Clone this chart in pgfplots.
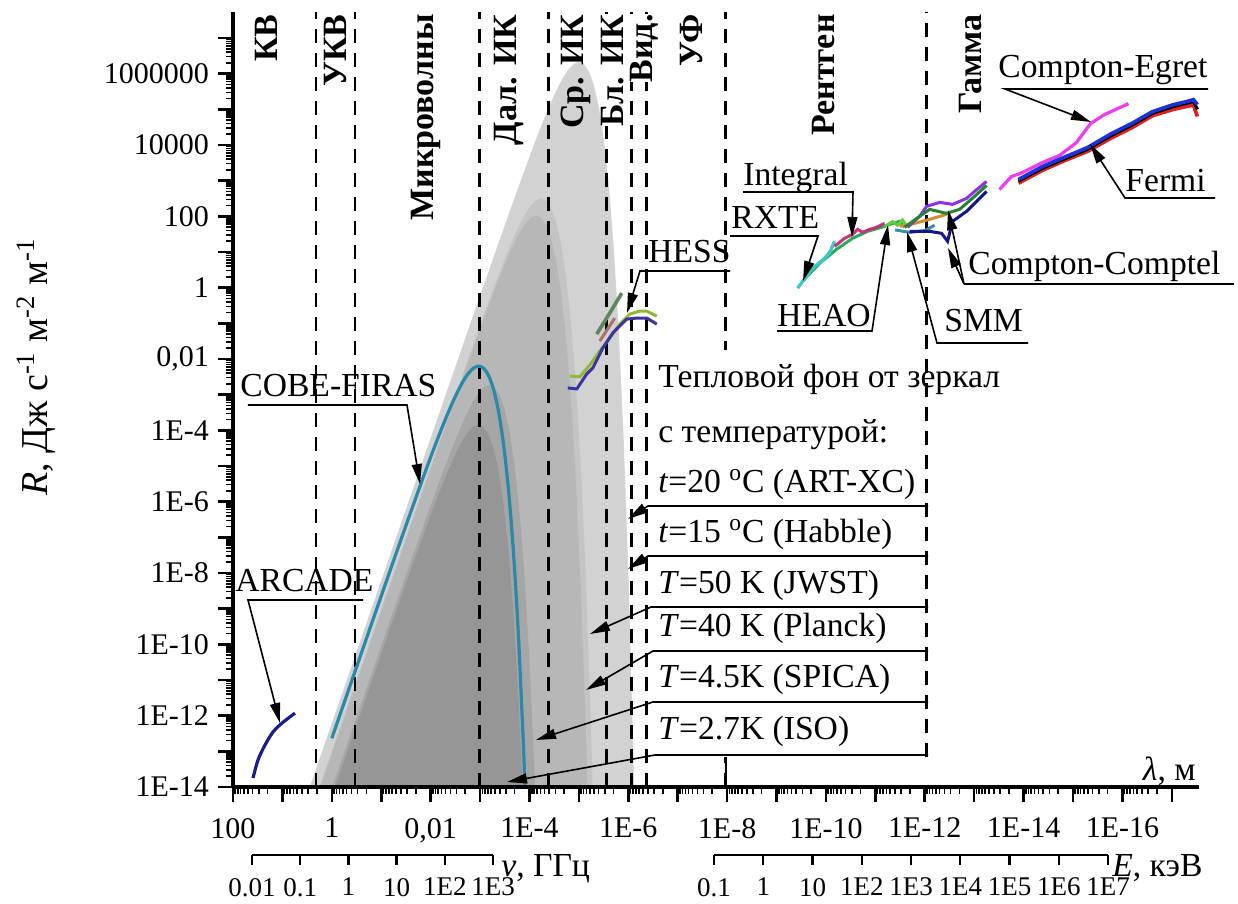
\documentclass[border=0pt]{standalone}
\usepackage{fontspec}
\setmainfont{Liberation Serif}
\usepackage{pgfplots}
\pgfplotsset{compat=1.18}
\usetikzlibrary{arrows.meta}

\definecolor{gA}{RGB}{220,220,220}
\definecolor{gB}{RGB}{210,210,210}
\definecolor{gC}{RGB}{196,196,196}
\definecolor{gD}{RGB}{183,183,183}
\definecolor{gE}{RGB}{166,166,166}
\definecolor{gF}{RGB}{150,150,150}
\definecolor{cobe}{RGB}{40,138,168}
\definecolor{arcade}{RGB}{25,30,140}
\definecolor{hessY}{RGB}{145,185,50}
\definecolor{hessB}{RGB}{60,50,160}
\definecolor{hessG}{RGB}{95,135,95}
\definecolor{hessR}{RGB}{175,110,110}
\definecolor{rxte}{RGB}{60,200,200}
\definecolor{heao}{RGB}{40,170,90}
\definecolor{integ}{RGB}{200,50,120}
\definecolor{smmG}{RGB}{100,205,60}
\definecolor{smmT}{RGB}{60,140,165}
\definecolor{orng}{RGB}{210,140,50}
\definecolor{purp}{RGB}{140,50,230}
\definecolor{dgrn}{RGB}{40,130,50}
\definecolor{navy}{RGB}{20,20,140}
\definecolor{egret}{RGB}{240,60,240}
\definecolor{fblue}{RGB}{30,50,220}
\definecolor{fred}{RGB}{230,30,30}

\begin{document}
\begin{tikzpicture}
% ---------- data (log10 lambda, log10 R) ----------
\begin{axis}[at={(0,0)},anchor=south west,scale only axis,
  width=483pt,height=387.5pt,
  x dir=reverse,xmin=-17.55,xmax=2,ymin=-14,ymax=7.73,hide axis]

% t=20 C
\addplot[fill=gA,draw=none] coordinates {
(-6.155,-16.22) (-6.105,-13.15) (-6.005,-8.07) (-5.905,-4.135) (-5.805,-1.112) (-5.705,1.186)
(-5.605,2.909) (-5.505,4.174) (-5.405,5.077) (-5.305,5.691) (-5.205,6.076) (-5.105,6.279)
(-5.005,6.34) (-4.905,6.289) (-4.805,6.152) (-4.705,5.95) (-4.605,5.699) (-4.505,5.413)
(-4.405,5.099) (-4.305,4.764) (-4.205,4.415) (-4.105,4.054) (-4.005,3.685) (-3.755,2.735)
(-3.505,1.763) (-3.255,0.778) (-3.005,-0.213) (-2.505,-2.206) (-2.005,-4.203) (-1.005,-8.203)
(-0.005,-12.203) (0.995,-16.203)} -- cycle;
% t=15 C
\addplot[fill=gB,draw=none] coordinates {
(-6.147,-16.26) (-6.097,-13.19) (-5.997,-8.11) (-5.897,-4.175) (-5.797,-1.152) (-5.697,1.146)
(-5.597,2.869) (-5.497,4.134) (-5.397,5.037) (-5.297,5.651) (-5.197,6.036) (-5.097,6.239)
(-4.997,6.30) (-4.897,6.249) (-4.797,6.112) (-4.697,5.91) (-4.597,5.659) (-4.497,5.373)
(-4.397,5.059) (-4.297,4.724) (-4.197,4.375) (-4.097,4.014) (-3.997,3.645) (-3.747,2.695)
(-3.497,1.723) (-3.247,0.738) (-2.997,-0.253) (-2.497,-2.246) (-1.997,-4.243) (-0.997,-8.243)
(0.003,-12.243) (1.003,-16.243)} -- cycle;
% T=50 K
\addplot[fill=gC,draw=none] coordinates {
(-5.337,-16.99) (-5.237,-11.91) (-5.137,-7.975) (-5.037,-4.952) (-4.937,-2.654) (-4.837,-0.931)
(-4.737,0.334) (-4.637,1.237) (-4.537,1.851) (-4.437,2.236) (-4.337,2.439) (-4.237,2.5)
(-4.137,2.449) (-4.037,2.312) (-3.937,2.11) (-3.837,1.859) (-3.737,1.573) (-3.637,1.259)
(-3.537,0.924) (-3.437,0.575) (-3.337,0.214) (-3.237,-0.155) (-2.987,-1.105) (-2.737,-2.077)
(-2.487,-3.062) (-2.237,-4.053) (-1.737,-6.046) (-1.237,-8.043) (-0.237,-12.043) (0.763,-16.043)} -- cycle;
% T=40 K
\addplot[fill=gD,draw=none] coordinates {
(-5.24,-17.47) (-5.14,-12.39) (-5.04,-8.455) (-4.94,-5.432) (-4.84,-3.134) (-4.74,-1.411)
(-4.64,-0.146) (-4.54,0.757) (-4.44,1.371) (-4.34,1.756) (-4.24,1.959) (-4.14,2.02)
(-4.04,1.969) (-3.94,1.832) (-3.84,1.63) (-3.74,1.379) (-3.64,1.093) (-3.54,0.779)
(-3.44,0.444) (-3.34,0.095) (-3.24,-0.266) (-3.14,-0.635) (-2.89,-1.585) (-2.64,-2.557)
(-2.39,-3.542) (-2.14,-4.533) (-1.64,-6.526) (-1.14,-8.523) (-0.14,-12.523) (0.86,-16.523)} -- cycle;
% T=4.5 K
\addplot[fill=gE,draw=none] coordinates {
(-4.191,-17.14) (-4.091,-13.205) (-3.991,-10.182) (-3.891,-7.884) (-3.791,-6.161) (-3.691,-4.896)
(-3.591,-3.993) (-3.491,-3.379) (-3.391,-2.994) (-3.291,-2.791) (-3.191,-2.73) (-3.091,-2.781)
(-2.991,-2.918) (-2.891,-3.12) (-2.791,-3.371) (-2.691,-3.657) (-2.591,-3.971) (-2.491,-4.306)
(-2.391,-4.655) (-2.291,-5.016) (-2.191,-5.385) (-1.941,-6.335) (-1.691,-7.307) (-1.441,-8.292)
(-1.191,-9.283) (-0.691,-11.276) (-0.191,-13.273) (0.809,-17.273)} -- cycle;
% T=2.7 K
\addplot[fill=gF,draw=none] coordinates {
(-3.969,-18.25) (-3.869,-14.315) (-3.769,-11.292) (-3.669,-8.994) (-3.569,-7.271) (-3.469,-6.006)
(-3.369,-5.103) (-3.269,-4.489) (-3.169,-4.104) (-3.069,-3.901) (-2.969,-3.84) (-2.869,-3.891)
(-2.769,-4.028) (-2.669,-4.23) (-2.569,-4.481) (-2.469,-4.767) (-2.369,-5.081) (-2.269,-5.416)
(-2.169,-5.765) (-2.069,-6.126) (-1.969,-6.495) (-1.719,-7.445) (-1.469,-8.417) (-1.219,-9.402)
(-0.969,-10.393) (-0.469,-12.386) (0.031,-14.383) (1.031,-18.383)} -- cycle;

% band borders
\begin{scope}[line width=1.4pt,dash pattern=on 7pt off 5pt]
\draw (0.321,-14) -- (0.321,7.73);
\draw (-0.468,-14) -- (-0.468,7.73);
\draw (-2.996,-14) -- (-2.996,7.73);
\draw (-4.392,-14) -- (-4.392,7.73);
\draw (-5.565,-14) -- (-5.565,7.73);
\draw (-6.070,-14) -- (-6.070,7.73);
\draw (-6.374,-14) -- (-6.374,7.73);
\draw (-7.972,-14) -- (-7.972,7.73);
\draw (-12.037,-13.16) -- (-12.037,7.73);
\end{scope}

% COBE-FIRAS
\addplot[cobe,line width=1.6pt,smooth] coordinates {
(0,-12.635) (-0.473,-10.746) (-0.973,-8.753) (-1.223,-7.762) (-1.473,-6.777) (-1.723,-5.805)
(-1.973,-4.855) (-2.073,-4.486) (-2.173,-4.125) (-2.273,-3.776) (-2.373,-3.441) (-2.473,-3.127)
(-2.573,-2.841) (-2.673,-2.59) (-2.773,-2.388) (-2.873,-2.251) (-2.973,-2.2) (-3.073,-2.261)
(-3.173,-2.464) (-3.273,-2.849) (-3.373,-3.463) (-3.473,-4.366) (-3.573,-5.631) (-3.673,-7.354)
(-3.773,-9.652) (-3.873,-12.675) (-3.909,-14.0)};
% ARCADE
\addplot[arcade,line width=1.6pt,smooth] coordinates {
(1.595,-13.75) (1.494,-13.245) (1.353,-12.825) (1.191,-12.46) (1.009,-12.21) (0.746,-11.93)};
% HESS
\addplot[hessY,line width=1.5pt] coordinates {
(-4.816,-2.476) (-5.019,-2.50) (-5.221,-2.17) (-5.423,-1.776) (-5.625,-1.413) (-5.828,-1.021)
(-6.030,-0.741) (-6.232,-0.657) (-6.374,-0.657) (-6.576,-0.797)};
\addplot[hessB,line width=1.5pt] coordinates {
(-4.776,-2.811) (-4.958,-2.839) (-5.160,-2.420) (-5.282,-2.252) (-5.484,-1.692) (-5.686,-1.273)
(-5.969,-0.881) (-6.172,-0.853) (-6.374,-0.853) (-6.576,-1.021)};
\addplot[hessG,line width=1.8pt] coordinates {(-5.362,-1.301) (-5.625,-0.713) (-5.868,-0.154)};
\addplot[hessR,line width=1.5pt] coordinates {(-5.423,-1.497) (-5.726,-0.853)};
% X-ray
\addplot[heao,line width=1.5pt] coordinates {
(-9.529,0.182) (-9.873,0.685) (-10.217,1.077) (-10.54,1.385) (-10.844,1.58) (-11.188,1.72)
(-11.35,1.804) (-11.491,1.86) (-11.592,1.692)};
\addplot[rxte,line width=1.6pt] coordinates {
(-9.428,-0.014) (-9.731,0.545) (-9.974,0.825) (-10.08,1.0) (-10.176,1.301)};
\addplot[integ,line width=1.5pt] coordinates {
(-10.176,1.161) (-10.379,1.385) (-10.54,1.497) (-10.642,1.636) (-10.743,1.552) (-10.884,1.636)
(-11.026,1.692) (-11.188,1.804)};
\addplot[smmT,line width=1.5pt] coordinates {(-11.4,1.62) (-11.7,1.55) (-12.0,1.6) (-12.2,1.75)};
\addplot[smmG,line width=1.5pt] coordinates {(-11.188,1.72) (-11.35,1.85) (-11.45,1.75) (-11.55,1.9) (-11.65,1.7)};
\addplot[orng,line width=1.5pt] coordinates {(-11.491,1.72) (-11.794,1.804) (-12.098,1.916) (-12.442,2.056)};
\addplot[purp,line width=1.5pt] coordinates {
(-11.653,1.692) (-11.896,2.0) (-12.037,2.28) (-12.3,2.392) (-12.563,2.336) (-12.846,2.503)
(-13.008,2.7) (-13.251,2.979)};
\addplot[dgrn,line width=1.5pt] coordinates {
(-11.592,1.692) (-11.896,2.0) (-12.098,2.196) (-12.442,2.084) (-12.705,2.196) (-13.008,2.559)
(-13.251,2.867)};
\addplot[navy,line width=1.5pt] coordinates {
(-11.693,1.58) (-12.098,1.58) (-12.341,1.524) (-12.462,1.3) (-12.563,1.86) (-12.846,2.14)
(-13.251,2.70)};
% gamma
\addplot[egret,line width=1.6pt] coordinates {
(-13.514,2.755) (-13.756,3.119) (-13.939,3.203) (-14.383,3.51) (-14.727,3.706) (-15.071,4.07)
(-15.354,4.601) (-15.638,4.853) (-16.123,5.161)};
\addplot[fred,line width=1.8pt] coordinates {
(-13.898,2.93) (-14.383,3.29) (-14.808,3.55) (-15.294,3.82) (-15.779,4.2) (-16.184,4.48)
(-16.608,4.82) (-17.033,5.0) (-17.296,5.08) (-17.437,5.12) (-17.518,4.8)};
\addplot[black,line width=1.6pt] coordinates {
(-13.898,2.99) (-14.383,3.35) (-14.808,3.60) (-15.294,3.88) (-15.779,4.27) (-16.184,4.55)
(-16.608,4.89) (-17.033,5.08) (-17.296,5.17) (-17.437,5.22) (-17.518,5.0)};
\addplot[fblue,line width=1.8pt] coordinates {
(-13.898,3.035) (-14.383,3.399) (-14.808,3.65) (-15.294,3.93) (-15.779,4.322) (-16.184,4.601)
(-16.608,4.937) (-17.033,5.133) (-17.296,5.217) (-17.437,5.273) (-17.518,5.133)};
\end{axis}

% ---------- annotations in picture pixels ----------
\begin{scope}[x=0.5pt,y=-0.5pt,shift={(-116.5pt,393.5pt)},
  lab/.style={anchor=base west,inner sep=0pt,font=\fontsize{16.8}{20}\selectfont},
  reg/.style={rotate=90,anchor=base east,inner sep=0pt,font=\bfseries\fontsize{17}{20}\selectfont},
  arr/.style={line width=0.8pt,-{Triangle[length=10pt,width=5pt]}}]
\fill[white] (653,350) rectangle (924,757);
\draw[line width=1.4pt,dash pattern=on 7pt off 5pt] (726,760) -- (726,787);

\node[reg] at (278,14) {КВ};
\node[reg] at (346,14) {УКВ};
\node[reg] at (433,14) {Микроволны};
\node[reg] at (516,14) {Дал. ИК};
\node[reg] at (583,14) {Ср. ИК};
\node[reg,fill=white] at (623,14) {Бл. ИК};
\node[reg,fill=white] at (652,14) {Вид.};
\node[reg] at (702,14) {УФ};
\node[reg] at (834,14) {Рентген};
\node[reg] at (981,14) {Гамма};

\node[lab] at (235,592) {ARCADE};
\draw[arr] (363,600) -- (248,600) -- (280,723);
\node[lab] at (240,397) {COBE-FIRAS};
\draw[arr] (248,405) -- (407,405) -- (420,484);
\node[lab] at (648,263) {HESS};
\draw[arr] (730,271) -- (640,271) -- (627,313);
\node[lab] at (731,229) {RXTE};
\draw[arr] (730,236) -- (818,236) -- (803,281);
\node[lab] at (743,186) {Integral};
\draw[arr] (743,192) -- (853,192) -- (852,237);
\node[lab] at (777,327) {HEAO};
\draw[arr] (777,331) -- (872,331) -- (888,225);
\node[lab] at (944,332) {SMM};
\draw[arr] (1028,343) -- (937,343) -- (907,232);
\node[lab] at (968,275) {Compton-Comptel};
\draw[line width=0.8pt] (1234,284) -- (964,284);
\draw[arr] (964,284) -- (948,210);
\draw[arr] (964,284) -- (948,248);
\node[lab] at (1125,192) {Fermi};
\draw[arr] (1215,198) -- (1125,198) -- (1090,144);
\node[lab] at (998,78) {Compton-Egret};
\draw[arr] (1208,89) -- (1005,89) -- (1091,122);

\node[lab] at (658,388) {Тепловой фон от зеркал};
\node[lab] at (658,443) {с температурой:};
\node[lab] at (658,493) {\textit{t}=20 \textsuperscript{o}C (ART-XC)};
\draw[arr] (928,506) -- (648,506) -- (628,519);
\node[lab] at (658,543) {\textit{t}=15 \textsuperscript{o}C (Habble)};
\draw[arr] (928,556) -- (648,556) -- (628,569);
\node[lab] at (658,594) {\textit{T}=50 K (JWST)};
\draw[arr] (928,607) -- (651,607) -- (590,634);
\node[lab] at (658,637) {\textit{T}=40 K (Planck)};
\draw[arr] (928,651) -- (653,651) -- (586,690);
\node[lab] at (658,688) {\textit{T}=4.5K (SPICA)};
\draw[arr] (928,702) -- (653,702) -- (536,740);
\node[lab] at (658,740) {\textit{T}=2.7K (ISO)};
\draw[arr] (928,755) -- (655,755) -- (507,782);

\node[rotate=90,font=\fontsize{19}{22}\selectfont] at (36,367)
  {\textit{R}, Дж с\textsuperscript{-1} м\textsuperscript{-2} м\textsuperscript{-1}};
\node[anchor=base east,inner sep=0pt,font=\fontsize{16.8}{20}\selectfont] at (1196,781) {\textit{λ}, м};
\node[lab] at (501,877) {\textit{ν}, ГГц};
\node[lab] at (1112,877) {\textit{E}, кэВ};
\end{scope}

% ---------- wavelength axis (ticks only) ----------
\begin{axis}[at={(0,0)},anchor=south west,scale only axis,
  width=483pt,height=387.5pt,
  xmode=log,ymode=log,x dir=reverse,
  xmin=2.818e-18,xmax=100,ymin=1e-14,ymax=5.37e7,
  axis x line*=bottom,axis y line*=left,
  axis line style={line width=1.6pt},
  tick align=outside,
  major tick length=7.5pt,minor tick length=3.5pt,
  every tick/.style={black},
  major tick style={line width=1.3pt},
  minor tick style={line width=0.8pt},
  tick label style={font=\fontsize{15}{18}\selectfont},
  xticklabel style={yshift=-4.5pt},
  yticklabel style={xshift=-1pt},
  xtick={1e-17,1e-16,1e-15,1e-14,1e-13,1e-12,1e-11,1e-10,1e-9,1e-8,1e-7,1e-6,1e-5,1e-4,1e-3,1e-2,1e-1,1,10,100},
  xticklabels={{},1E-16,{},1E-14,{},1E-12,{},1E-10,{},1E-8,{},1E-6,{},1E-4,{},{0,01},{},1,{},100},
  ytick={1e-14,1e-13,1e-12,1e-11,1e-10,1e-9,1e-8,1e-7,1e-6,1e-5,1e-4,1e-3,1e-2,1e-1,1,10,100,1e3,1e4,1e5,1e6,1e7},
  yticklabels={1E-14,{},1E-12,{},1E-10,{},1E-8,{},1E-6,{},1E-4,{},{0,01},{},1,{},100,{},10000,{},1000000,{}}]
\end{axis}

% ---------- frequency scale ----------
\begin{axis}[at={(9.5pt,-34pt)},anchor=south west,scale only axis,
  width=120.5pt,height=1pt,xmode=log,xmin=0.01,xmax=1000,ymin=0,ymax=1,
  axis x line*=bottom,axis y line=none,ytick=\empty,xminorticks=false,
  axis line style={line width=1.3pt},tick align=outside,major tick length=5pt,
  every tick/.style={black,line width=1.2pt},
  tick label style={font=\fontsize{13.5}{16}\selectfont},
  xticklabel style={yshift=-3pt},
  xtick={0.01,0.1,1,10,100,1000},xticklabels={0.01,0.1,1,10,1E2,1E3}]
\end{axis}

% ---------- energy scale ----------
\begin{axis}[at={(240.5pt,-34pt)},anchor=south west,scale only axis,
  width=197pt,height=1pt,xmode=log,xmin=0.1,xmax=1e7,ymin=0,ymax=1,
  axis x line*=bottom,axis y line=none,ytick=\empty,xminorticks=false,
  axis line style={line width=1.3pt},tick align=outside,major tick length=5pt,
  every tick/.style={black,line width=1.2pt},
  tick label style={font=\fontsize{13.5}{16}\selectfont},
  xticklabel style={yshift=-3pt},
  xtick={0.1,1,10,100,1000,1e4,1e5,1e6,1e7},xticklabels={0.1,1,10,1E2,1E3,1E4,1E5,1E6,1E7}]
\end{axis}

\begin{scope}[x=0.5pt,y=-0.5pt,shift={(-116.5pt,393.5pt)}]
\pgfresetboundingbox
\path[use as bounding box] (0,0) rectangle (1238,904);
\end{scope}
\end{tikzpicture}
\end{document}
